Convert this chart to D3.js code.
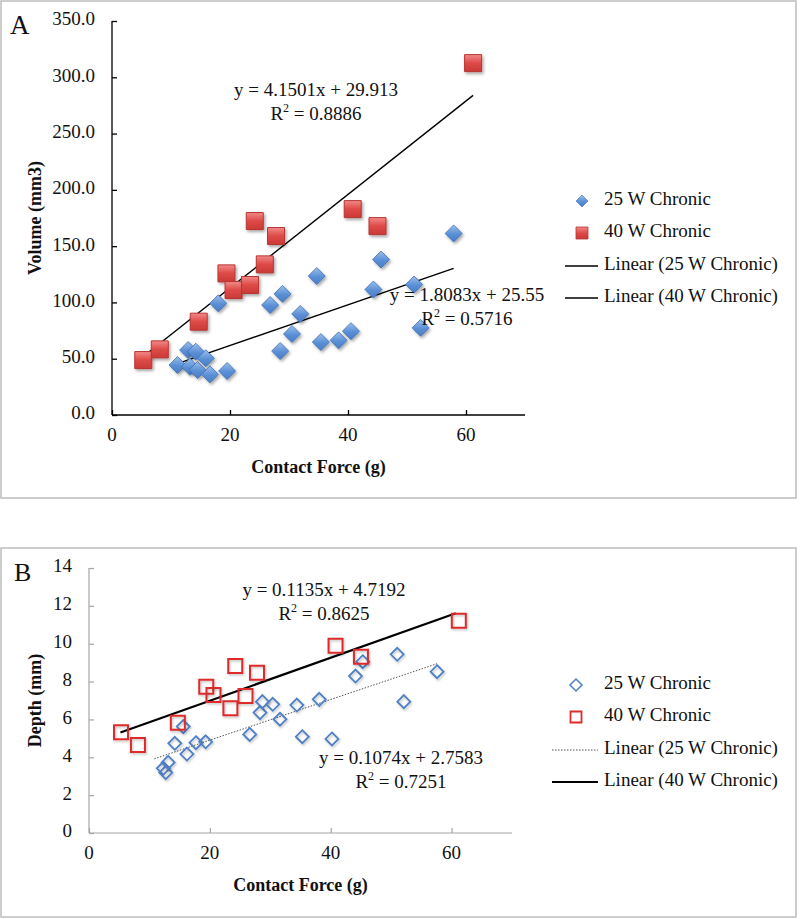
<!DOCTYPE html>
<html><head><meta charset="utf-8">
<script src="https://cdn.jsdelivr.net/npm/d3@7"></script>
<style>
body{margin:0;background:#fff;}
svg text{font-family:"Liberation Serif","Times New Roman",serif;fill:#111;}
</style></head>
<body><svg id="c" width="800" height="919"></svg>
<script>
// ---- data ----
const forceA25 = [11.1,12.9,13.2,14.2,14.5,15.9,16.6,18.0,19.5,26.8,28.5,28.9,30.5,31.9,34.7,35.4,38.4,40.5,44.3,45.6,51.2,52.3,57.9];
const volA25   = [44.4,57.7,42.9,56.2,40.0,50.4,36.1,99.2,39.1,97.7,56.8,107.6,72.0,89.8,123.4,64.8,66.3,74.5,111.5,138.1,115.9,77.4,161.3];
const force40  = [5.3,8.1,14.7,19.4,20.6,23.4,24.2,25.9,27.8,40.8,45.0,61.2];
const vol40    = [48.8,58.3,82.9,125.8,111.0,115.5,172.3,133.8,159.0,182.9,167.8,312.6];
const forceB25 = [12.3,12.7,13.1,14.2,15.6,16.2,17.7,19.3,26.6,28.3,28.7,30.4,31.6,34.4,35.3,38.1,40.2,44.1,45.3,51.0,52.1,57.6];
const depthB25 = [3.42,3.19,3.73,4.74,5.62,4.17,4.77,4.82,5.21,6.36,6.94,6.80,6.01,6.76,5.09,7.06,4.97,8.29,9.05,9.44,6.94,8.52];
const depth40  = [5.32,4.65,5.83,7.73,7.29,6.59,8.82,7.24,8.47,9.89,9.31,11.21];
// fits: [slope, intercept, xStart, xEnd]
const fitA25 = [1.8083, 25.55, 11.1, 57.9];
const fitA40 = [4.1501, 29.913, 5.3, 61.2];
const fitB25 = [0.1074, 2.7583, 10.8, 57.6];
const fitB40 = [0.1135, 4.7192, 5.2, 60.7];
const eqA25 = ["y = 1.8083x + 25.55", "0.5716"];
const eqA40 = ["y = 4.1501x + 29.913", "0.8886"];
const eqB25 = ["y = 0.1074x + 2.7583", "0.7251"];
const eqB40 = ["y = 0.1135x + 4.7192", "0.8625"];
const xTicks = [0,20,40,60];
const yTicksA = [0,50,100,150,200,250,300,350];
const yTicksB = [0,2,4,6,8,10,12,14];
const legendLabels = ["25 W Chronic","40 W Chronic","Linear (25 W Chronic)","Linear (40 W Chronic)"];

const FS = 19;
const svg = d3.select("#c");
const defs = svg.append("defs");
const gb = defs.append("linearGradient").attr("id","gBlue").attr("x1",0).attr("y1",0).attr("x2",0).attr("y2",1);
gb.append("stop").attr("offset","0%").attr("stop-color","#9dbfe9");
gb.append("stop").attr("offset","55%").attr("stop-color","#5a8fd6");
gb.append("stop").attr("offset","100%").attr("stop-color","#4a7cc4");
const gr = defs.append("linearGradient").attr("id","gRed").attr("x1",0).attr("y1",0).attr("x2",0).attr("y2",1);
gr.append("stop").attr("offset","0%").attr("stop-color","#f08a88");
gr.append("stop").attr("offset","50%").attr("stop-color","#de4a47");
gr.append("stop").attr("offset","100%").attr("stop-color","#c93a37");
const f = defs.append("filter").attr("id","sh").attr("x","-50%").attr("y","-50%").attr("width","200%").attr("height","200%");
f.append("feDropShadow").attr("dx",1.5).attr("dy",2).attr("stdDeviation",1.5).attr("flood-color","#000").attr("flood-opacity",0.35);
const f2 = defs.append("filter").attr("id","sh2").attr("x","-50%").attr("y","-50%").attr("width","200%").attr("height","200%");
f2.append("feDropShadow").attr("dx",1).attr("dy",1.5).attr("stdDeviation",1).attr("flood-color","#000").attr("flood-opacity",0.25);

// panel borders
svg.append("rect").attr("x",1).attr("y",1).attr("width",795).attr("height",497).attr("fill","none").attr("stroke","#bdbdbd").attr("stroke-width",1.5);
svg.append("rect").attr("x",1).attr("y",548).attr("width",795).attr("height",369).attr("fill","none").attr("stroke","#bdbdbd").attr("stroke-width",1.5);

function diamondPath(r){return `M0,${-r}L${r},0L0,${r}L${-r},0Z`;}
function squarePath(s){const h=s/2;return `M${-h},${-h}H${h}V${h}H${-h}Z`;}

function panel(o){
  const x = d3.scaleLinear().domain([0,70]).range([o.x0,o.x1]);
  const y = d3.scaleLinear().domain([0,o.ymax]).range([o.y0,o.y1]);
  const g = svg.append("g");
  const ax = g.append("g").attr("transform",`translate(0,${o.y0})`)
    .call(d3.axisTop(x).tickValues(xTicks).tickSize(o.tick).tickFormat(""));
  ax.selectAll("path,line").attr("stroke",o.axisColor).attr("stroke-width",o.axisW);
  ax.select(".domain").attr("d",`M${o.x0},0H${o.x1}`);
  const ay = g.append("g").attr("transform",`translate(${o.x0},0)`)
    .call(d3.axisRight(y).tickValues(o.yTicks).tickSize(o.tick).tickFormat(""));
  ay.selectAll("path,line").attr("stroke",o.axisColor).attr("stroke-width",o.axisW);
  ay.select(".domain").attr("d",`M0,${o.y0}V${o.y1}`);
  g.selectAll(".xl").data(xTicks).join("text").attr("x",d=>x(d)).attr("y",o.y0+22)
    .attr("text-anchor","middle").attr("dominant-baseline","middle").attr("font-size",FS).text(d=>d);
  g.selectAll(".yl").data(o.yTicks).join("text").attr("x",o.x0-17).attr("y",d=>y(d))
    .attr("text-anchor","end").attr("dominant-baseline","middle").attr("font-size",FS).text(o.yfmt);
  g.append("text").attr("x",(o.x0+o.x1)/2).attr("y",o.y0+54).attr("text-anchor","middle")
    .attr("dominant-baseline","middle").attr("font-size",18).attr("font-weight","bold").text("Contact Force (g)");
  g.append("text").attr("transform",`translate(37,${(o.y0+o.y1)/2}) rotate(-90)`).attr("text-anchor","middle")
    .attr("dominant-baseline","middle").attr("font-size",18).attr("font-weight","bold").text(o.ytitle);
  g.append("text").attr("x",o.lx).attr("y",o.ly).attr("font-size",o.lsize).text(o.letter);
  return {x,y,g};
}

function eq(g,cx,cy,e){
  g.append("text").attr("x",cx).attr("y",cy).attr("text-anchor","middle").attr("dominant-baseline","middle").attr("font-size",FS).text(e[0]);
  const t = g.append("text").attr("x",cx).attr("y",cy+24).attr("text-anchor","middle").attr("dominant-baseline","middle").attr("font-size",FS);
  t.append("tspan").text("R");
  t.append("tspan").attr("font-size",12).attr("dy",-7).text("2");
  t.append("tspan").attr("dy",7).text(" = "+e[1]);
}
function legend(g,lx,ys,markerFn,lineStyles,lineX0){
  markerFn(g.append("g").attr("transform",`translate(${lx},${ys[0]})`),0);
  markerFn(g.append("g").attr("transform",`translate(${lx},${ys[1]})`),1);
  [2,3].forEach((k,j)=>{
    g.append("line").attr("x1",lineX0).attr("x2",598).attr("y1",ys[k]).attr("y2",ys[k])
      .attr("stroke",lineStyles[j].c).attr("stroke-width",lineStyles[j].w).attr("stroke-dasharray",lineStyles[j].d);
  });
  ys.forEach((yy,i)=>g.append("text").attr("x",604).attr("y",yy).attr("dominant-baseline","middle").attr("font-size",FS).text(legendLabels[i]));
}

// ---------- Panel A ----------
const A = panel({x0:112,x1:525,y0:415,y1:21,ymax:350,yTicks:yTicksA,yfmt:d3.format(".1f"),tick:5,
  axisColor:"#000",axisW:1.3,ytitle:"Volume (mm3)",letter:"A",lx:10,ly:34,lsize:27});
[fitA25,fitA40].forEach(ft=>{
  A.g.append("line").attr("x1",A.x(ft[2])).attr("y1",A.y(ft[0]*ft[2]+ft[1]))
    .attr("x2",A.x(ft[3])).attr("y2",A.y(ft[0]*ft[3]+ft[1])).attr("stroke","#000").attr("stroke-width",1.4);
});
const dA25 = forceA25.map((v,i)=>[v,volA25[i]]);
const dA40 = force40.map((v,i)=>[v,vol40[i]]);
A.g.selectAll(".sq").data(dA40).join("path").attr("d",squarePath(17))
  .attr("transform",d=>`translate(${A.x(d[0])},${A.y(d[1])})`)
  .attr("fill","url(#gRed)").attr("stroke","#b83532").attr("stroke-width",1).attr("filter","url(#sh)");
A.g.selectAll(".dm").data(dA25).join("path").attr("d",diamondPath(8.5))
  .attr("transform",d=>`translate(${A.x(d[0])},${A.y(d[1])})`)
  .attr("fill","url(#gBlue)").attr("stroke","#3f6fb5").attr("stroke-width",0.8).attr("filter","url(#sh)");
eq(A.g,316,92,eqA40);
eq(A.g,467,297,eqA25);
legend(A.g,582,[201,233,266,298],(h,i)=>{
  if(i===0) h.append("path").attr("d",diamondPath(6)).attr("fill","url(#gBlue)").attr("stroke","#3f6fb5").attr("stroke-width",0.6);
  else h.append("path").attr("d",squarePath(12)).attr("fill","url(#gRed)").attr("stroke","#b83532").attr("stroke-width",0.8);
},[{c:"#000",w:1.3,d:null},{c:"#000",w:1.3,d:null}],565);

// ---------- Panel B ----------
const B = panel({x0:89,x1:512,y0:833,y1:568,ymax:14,yTicks:yTicksB,yfmt:d=>d,tick:5,
  axisColor:"#a6a6a6",axisW:1.2,ytitle:"Depth (mm)",letter:"B",lx:14,ly:581,lsize:26});
B.g.append("line").attr("x1",B.x(fitB25[2])).attr("y1",B.y(fitB25[0]*fitB25[2]+fitB25[1]))
  .attr("x2",B.x(fitB25[3])).attr("y2",B.y(fitB25[0]*fitB25[3]+fitB25[1]))
  .attr("stroke","#555").attr("stroke-width",1).attr("stroke-dasharray","1.5,1.5");
B.g.append("line").attr("x1",B.x(fitB40[2])).attr("y1",B.y(fitB40[0]*fitB40[2]+fitB40[1]))
  .attr("x2",B.x(fitB40[3])).attr("y2",B.y(fitB40[0]*fitB40[3]+fitB40[1]))
  .attr("stroke","#000").attr("stroke-width",2.2);
const dB25 = forceB25.map((v,i)=>[v,depthB25[i]]);
const dB40 = force40.map((v,i)=>[v,depth40[i]]);
B.g.selectAll(".dm").data(dB25).join("path").attr("d",diamondPath(6.5))
  .attr("transform",d=>`translate(${B.x(d[0])},${B.y(d[1])})`)
  .attr("fill","#fff").attr("fill-opacity",0).attr("stroke","#4f7fc4").attr("stroke-width",1.8).attr("filter","url(#sh2)");
B.g.selectAll(".sq").data(dB40).join("path").attr("d",squarePath(14))
  .attr("transform",d=>`translate(${B.x(d[0])},${B.y(d[1])})`)
  .attr("fill","none").attr("stroke","#dd2b2b").attr("stroke-width",2).attr("filter","url(#sh2)");
eq(B.g,324,592,eqB40);
eq(B.g,401,760,eqB25);
legend(B.g,576,[685,717,750,782],(h,i)=>{
  if(i===0) h.append("path").attr("d",diamondPath(6)).attr("fill","none").attr("stroke","#4f7fc4").attr("stroke-width",1.5);
  else h.append("path").attr("d",squarePath(11)).attr("fill","none").attr("stroke","#dd2b2b").attr("stroke-width",1.8);
},[{c:"#555",w:1,d:"1.5,1.5"},{c:"#000",w:2.2,d:null}],552);
</script></body></html>
